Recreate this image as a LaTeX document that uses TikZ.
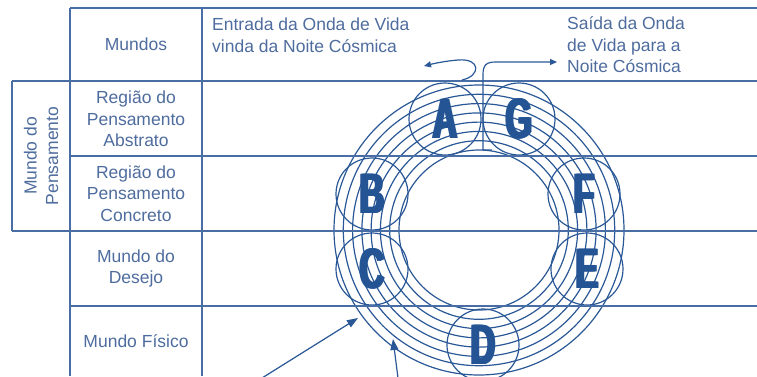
\documentclass[tikz,border=0pt]{standalone}
\usepackage{fontspec}
\setmainfont{Liberation Sans}
\usetikzlibrary{arrows.meta}
\definecolor{tbl}{RGB}{72,110,165}
\definecolor{txt}{RGB}{78,108,158}
\definecolor{ring}{RGB}{42,88,150}
\definecolor{letc}{RGB}{36,84,148}
\newcommand\fatlet[1]{\scalebox{0.6}[1]{\rlap{#1}\hspace{1.6pt}\rlap{#1}\hspace{1.6pt}\rlap{#1}\hspace{1.6pt}#1}}
\begin{document}
\begin{tikzpicture}[x=1pt,y=-1pt,
  grid/.style={draw=tbl,line width=1.8pt},
  lab/.style={text=txt,font=\fontsize{17.5}{21.5}\selectfont,align=center,inner sep=0pt},
  labl/.style={lab,align=left,anchor=west},
  rg/.style={draw=ring,line width=1.2pt},
  sc/.style={circle,draw=ring,line width=1.2pt,minimum size=72pt,inner sep=0pt,text=letc,font=\fontsize{57}{57}\selectfont\bfseries},
  arr/.style={draw=ring,line width=1.2pt,-{Triangle[length=11pt,width=8pt]}},
  sarr/.style={draw=ring,line width=1.2pt,-{Triangle[length=7pt,width=6pt]}}]
\useasboundingbox (0,0) rectangle (757,376);
% rings
\foreach \r in {80,89.3,98.6,107.9,117.1,126.4,135.7,145}{
  \draw[rg] (479,230) circle[radius=\r pt];
}
% small circles with letters
\node[sc] (cA) at (445,119) {\fatlet{A}};
\node[sc] (cG) at (519,119) {\fatlet{G}};
\node[sc] (cB) at (372,194) {\fatlet{B}};
\node[sc] (cC) at (372,269) {\fatlet{C}};
\node[sc] (cF) at (584,194) {\fatlet{F}};
\node[sc] (cE) at (587,269) {\fatlet{E}};
\node[sc] (cD) at (483,345) {\fatlet{D}};
% table grid
\draw[grid] (70,8) -- (757,8);
\draw[grid] (12,81) -- (757,81);
\draw[grid] (70,156) -- (757,156);
\draw[grid] (12,231) -- (757,231);
\draw[grid] (70,306) -- (757,306);
\draw[grid] (70,8) -- (70,376);
\draw[grid] (202,8) -- (202,376);
\draw[grid] (12,81) -- (12,231);
% texts
\node[lab] (mundos) at (136,44) {Mundos};
\node[labl] (entrada) at (212,35) {Entrada da Onda de Vida\\vinda da Noite Cósmica};
\node[labl] (saida) at (567,45) {Saída da Onda\\de Vida para a\\Noite Cósmica};
\node[lab] (abs) at (136,119) {Região do\\Pensamento\\Abstrato};
\node[lab] (conc) at (136,193.5) {Região do\\Pensamento\\Concreto};
\node[lab] (desejo) at (136,268.5) {Mundo do\\Desejo};
\node[lab] (fisico) at (136,341) {Mundo Físico};
\node[lab,rotate=90] (pens) at (41,156) {Mundo do\\Pensamento};
% entry and exit of the life wave
\coordinate (inS) at (462,80);
\coordinate (inE) at (424,66);
\draw[sarr] (inS) .. controls (481,76) and (481,58) .. (458,60) .. controls (446,61) and (436,63) .. (inE);
\coordinate (outS) at (492,150);
\coordinate (outK) at (483,150);
\coordinate (outE) at (557,62);
\draw[sarr] (outS) -- (outK) -- (483,75) .. controls (483,65) and (486,62) .. (496,62) -- (outE);
% bottom-left arrows
\coordinate (a1s) at (262,378);
\coordinate (a1e) at (358,318);
\coordinate (a2s) at (398,378);
\coordinate (a2e) at (393,339);
\draw[arr] (a1s) -- (a1e);
\draw[arr] (a2s) -- (a2e);
\end{tikzpicture}
\end{document}
